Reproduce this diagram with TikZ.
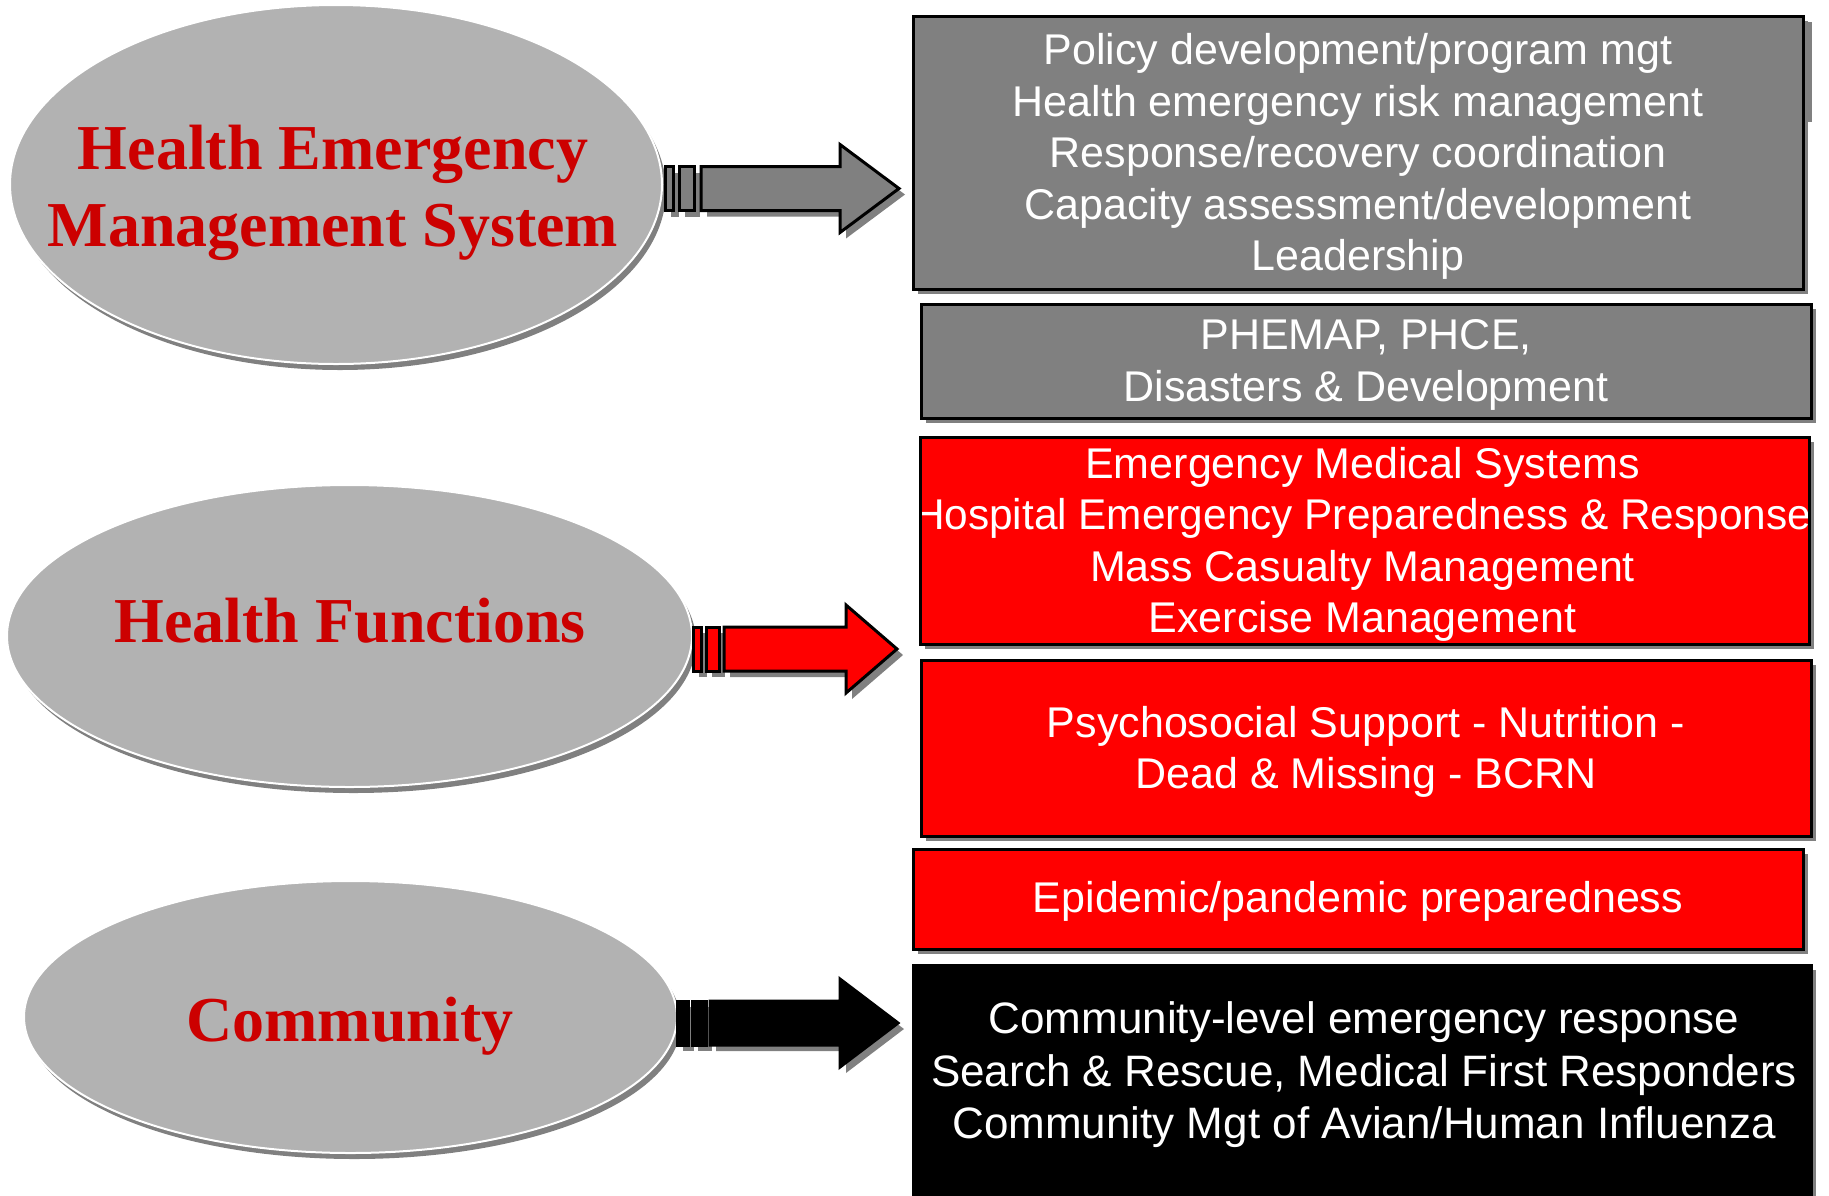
\documentclass[tikz,border=0pt]{standalone}
\usepackage{graphicx}
\usepackage{fontspec}
\setmainfont{Liberation Sans}
\newfontfamily\titlefont{Liberation Serif}
\usetikzlibrary{shapes.geometric,shadows}
\definecolor{ellfill}{HTML}{B2B2B2}
\definecolor{shad}{HTML}{808080}
\definecolor{boxgray}{HTML}{808080}
\definecolor{boxred}{HTML}{FF0000}
\definecolor{titlered}{HTML}{CC0000}
\tikzset{
  oval/.style={ellipse, fill=ellfill, draw=white, line width=2pt, inner sep=0pt,
    drop shadow={shadow xshift=4pt, shadow yshift=-6pt, fill=shad, opacity=1}},
  ovaltext/.style={font=\titlefont\bfseries\fontsize{64pt}{77pt}\selectfont,
    text=titlered, align=center, inner sep=0pt},
  panel/.style={draw=black, line width=3pt, inner sep=0pt, outer sep=0pt,
    drop shadow={shadow xshift=5pt, shadow yshift=-5pt, fill=shad, opacity=1}},
  paneltext/.style={font=\fontsize{43pt}{51.5pt}\selectfont, text=white,
    align=center, inner sep=0pt, yshift=-4pt},
  arrowpart/.style={draw=black, line width=3pt, line join=miter,
    drop shadow={shadow xshift=6pt, shadow yshift=-6pt, fill=shad, opacity=1}},
}
% #1 colour, #2-#3 first bar, #4-#5 second bar, #6 shaft start, #7 head base, #8 tip, #9 centre y
\newcommand\fatarrow[9]{%
  \path[arrowpart, fill=#1] (#2,#9-22) rectangle (#3,#9+22);
  \path[arrowpart, fill=#1] (#4,#9-22) rectangle (#5,#9+22);
  \path[arrowpart, fill=#1] (#6,#9-22) -- (#7,#9-22) -- (#7,#9-44) -- (#8,#9)
     -- (#7,#9+44) -- (#7,#9+22) -- (#6,#9+22) -- cycle;
}
\begin{document}
\begin{tikzpicture}[x=1pt,y=-1pt]
\useasboundingbox (0,0) rectangle (1829,1195);

% ovals
\node[oval, minimum width=652pt, minimum height=359pt] (e1) at (336,184.5) {};
\node[oval, minimum width=685pt, minimum height=302pt] (e2) at (349.5,636) {};
\node[oval, minimum width=653pt, minimum height=272pt] (e3) at (350.5,1017) {};
\node[ovaltext] (te1) at (333,193) {Health Emergency\\Management System};
\node[ovaltext, anchor=base] (te2) at (350,642) {Health Functions};
\node[ovaltext, anchor=base] (te3) at (350,1041) {Community};

% arrows
\fatarrow{boxgray}{665}{673}{679}{694}{701}{840}{899}{188.5}
\fatarrow{boxred}{693}{701}{706}{719}{724}{846}{897}{649}
\fatarrow{black}{677}{688}{692}{706}{710}{840}{898}{1023}

% panels
\fill[shad] (1808,22) rectangle (1812,122);
\node[panel, fill=boxgray, minimum width=890pt, minimum height=273pt] (b1) at (1358,152.5) {};
\node[paneltext] (tb1) at (b1.center) {Policy development/program mgt\\Health emergency risk management\\Response/recovery coordination\\Capacity assessment/development\\Leadership};

\node[panel, fill=boxgray, minimum width=890pt, minimum height=114pt] (b2) at (1366,361) {};
\node[paneltext] (tb2) at (b2.center) {PHEMAP, PHCE,\\Disasters \& Development};

\node[panel, fill=boxred, minimum width=889pt, minimum height=207pt] (b3) at (1364.5,540.5) {};
\node[paneltext] (tb3) at (1362.5,540.5) {Emergency Medical Systems\\\scalebox{0.985}[1]{Hospital Emergency Preparedness \& Response}\\Mass Casualty Management\\Exercise Management};
\draw[black, line width=3pt] (b3.north west) rectangle (b3.south east);

\node[panel, fill=boxred, minimum width=890pt, minimum height=176pt] (b4) at (1366,748) {};
\node[paneltext] (tb4) at (b4.center) {Psychosocial Support - Nutrition -\\Dead \& Missing - BCRN};

\node[panel, fill=boxred, minimum width=890pt, minimum height=100pt] (b5) at (1358,899) {};
\node[paneltext, yshift=2pt] (tb5) at (b5.center) {Epidemic/pandemic preparedness};

\node[panel, fill=black, minimum width=898pt, minimum height=240pt] (b6) at (1362,1085) {};
\node[paneltext, font=\fontsize{44pt}{52.5pt}\selectfont, yshift=2pt] (tb6) at (1364,1073) {Community-level emergency response\\Search \& Rescue, Medical First Responders\\Community Mgt of Avian/Human Influenza};
\end{tikzpicture}
\end{document}
